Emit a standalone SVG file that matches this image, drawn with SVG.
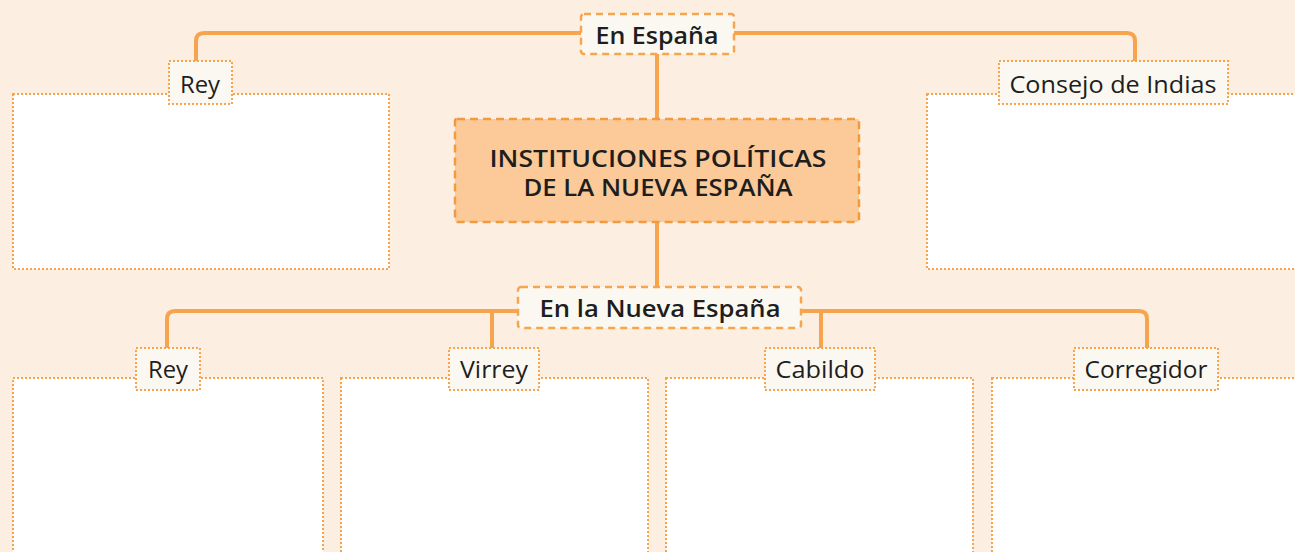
<svg xmlns="http://www.w3.org/2000/svg" width="1295" height="552" viewBox="0 0 1295 552">
<defs>
<style>
.bg{fill:#fcefe1}
.conn{fill:none;stroke:#f7a44e;stroke-width:4;stroke-linecap:butt}
.hdr{fill:#fbf8f1;stroke:#f7a44e;stroke-width:2.5;stroke-dasharray:7 5}
.main{fill:#fbca98;stroke:#f39a3e;stroke-width:2.5;stroke-dasharray:8 5}
.lbl{fill:#fbf8f1;stroke:#f7a44e;stroke-width:2;stroke-dasharray:2 2}
.box{fill:#ffffff;stroke:#f7a44e;stroke-width:2;stroke-dasharray:2 2}
.t{font-family:"Open Sans","Noto Sans","Liberation Sans",sans-serif;fill:#1e1e1e;text-anchor:middle}
.th{font-size:24px;font-weight:600}
.tm{font-size:23px;font-weight:600}
.tl{font-size:23px;font-weight:500}
</style>
</defs>
<rect class="bg" x="0" y="0" width="1295" height="552"/>
<g id="connectors">
<path class="conn" d="M196,61 V41 Q196,33 204,33 H1127 Q1135,33 1135,41 V61"/>
<path class="conn" d="M657,54 V119"/>
<path class="conn" d="M657,222 V287"/>
<path class="conn" d="M167,348 V319 Q167,311 175,311 H1139 Q1147,311 1147,319 V348"/>
<path class="conn" d="M492,311 V348"/>
<path class="conn" d="M821,311 V348"/>
</g>
<g id="box-rey-espana">
<rect class="box" x="13" y="94" width="376" height="175"/>
</g>
<g id="box-consejo">
<rect class="box" x="927" y="94" width="380" height="175"/>
</g>
<g id="box-rey">
<rect class="box" x="13" y="378" width="310" height="186"/>
</g>
<g id="box-virrey">
<rect class="box" x="341" y="378" width="307" height="186"/>
</g>
<g id="box-cabildo">
<rect class="box" x="666" y="378" width="307" height="186"/>
</g>
<g id="box-corregidor">
<rect class="box" x="992" y="378" width="315" height="186"/>
</g>
<g id="en-espana">
<rect class="hdr" x="581" y="14" width="153" height="40" rx="3"/>
<text class="t th" x="657" y="44" textLength="123" lengthAdjust="spacingAndGlyphs">En España</text>
</g>
<g id="instituciones">
<rect class="main" x="455" y="119" width="404" height="103" rx="2"/>
<text class="t tm" x="658" y="167" textLength="337" lengthAdjust="spacingAndGlyphs">INSTITUCIONES POLÍTICAS</text>
<text class="t tm" x="658" y="196" textLength="269" lengthAdjust="spacingAndGlyphs">DE LA NUEVA ESPAÑA</text>
</g>
<g id="en-la-nueva-espana">
<rect class="hdr" x="518" y="287" width="283" height="41" rx="3"/>
<text class="t th" x="660" y="317" textLength="241" lengthAdjust="spacingAndGlyphs">En la Nueva España</text>
</g>
<g id="lbl-rey-espana">
<rect class="lbl" x="169" y="61" width="63" height="43"/>
<text class="t tl" x="200" y="93" textLength="40" lengthAdjust="spacingAndGlyphs">Rey</text>
</g>
<g id="lbl-consejo">
<rect class="lbl" x="999" y="61" width="229" height="43"/>
<text class="t tl" x="1113" y="93" textLength="207" lengthAdjust="spacingAndGlyphs">Consejo de Indias</text>
</g>
<g id="lbl-rey">
<rect class="lbl" x="136" y="348" width="64" height="42"/>
<text class="t tl" x="168" y="378" textLength="40" lengthAdjust="spacingAndGlyphs">Rey</text>
</g>
<g id="lbl-virrey">
<rect class="lbl" x="449" y="348" width="90" height="42"/>
<text class="t tl" x="494" y="378" textLength="68" lengthAdjust="spacingAndGlyphs">Virrey</text>
</g>
<g id="lbl-cabildo">
<rect class="lbl" x="765" y="348" width="110" height="42"/>
<text class="t tl" x="820" y="378" textLength="89" lengthAdjust="spacingAndGlyphs">Cabildo</text>
</g>
<g id="lbl-corregidor">
<rect class="lbl" x="1074" y="348" width="144" height="42"/>
<text class="t tl" x="1146" y="378" textLength="123" lengthAdjust="spacingAndGlyphs">Corregidor</text>
</g>
</svg>
